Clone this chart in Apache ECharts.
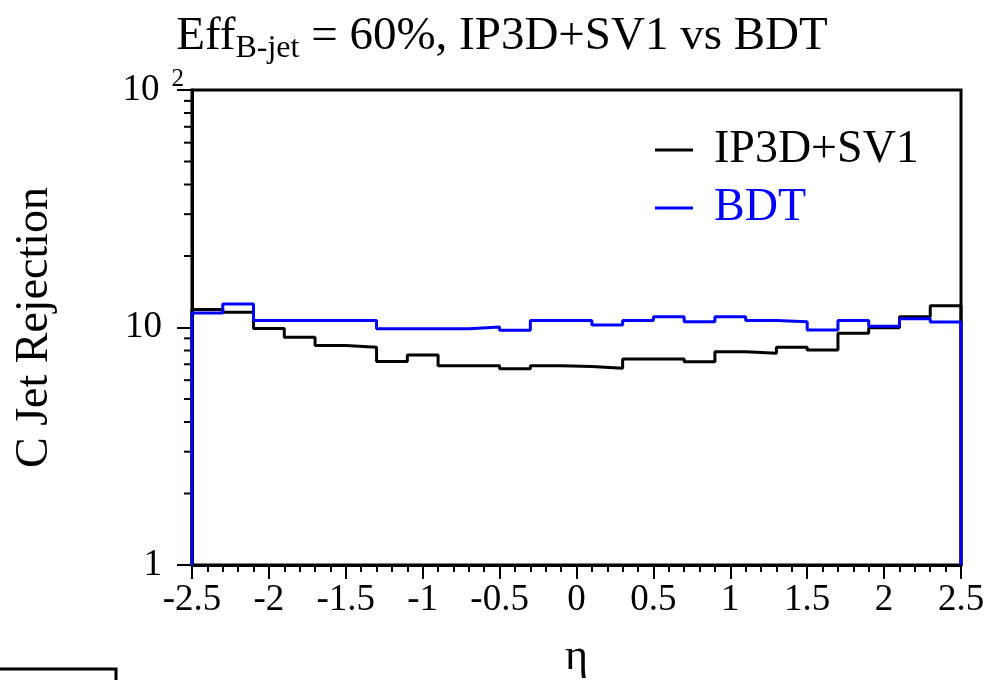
<!DOCTYPE html>
<html lang="en">
  <head>
    <meta charset="UTF-8" />
    <title>C Jet Rejection vs eta</title>
    <script src="https://cdn.jsdelivr.net/npm/echarts@6.0.0/dist/echarts.min.js"></script>
    <style>
      * { margin: 0; padding: 0; box-sizing: border-box; }
      body { background: #fff; overflow: hidden; }
      #chart { width: 988px; height: 680px; }
    </style>
  </head>
  <body>
    <div id="chart"></div>
    <script>
      // bin low edges (eta), bin width 0.2
      const etaBins = [-2.5, -2.3, -2.1, -1.9, -1.7, -1.5, -1.3, -1.1, -0.9, -0.7, -0.5, -0.3, -0.1,
                       0.1, 0.3, 0.5, 0.7, 0.9, 1.1, 1.3, 1.5, 1.7, 1.9, 2.1, 2.3];
      const etaMax = 2.5;
      const ip3dSv1 = [11.9, 11.6, 9.9, 9.1, 8.4, 8.25, 7.2, 7.66, 6.9, 6.9, 6.7, 6.9, 6.85,
                       6.73, 7.37, 7.37, 7.18, 7.91, 7.79, 8.25, 8.04, 9.45, 9.98, 11.1, 12.35];
      const bdt = [11.5, 12.56, 10.7, 10.7, 10.7, 10.7, 9.88, 9.88, 9.88, 10.05, 9.73, 10.7, 10.7,
                   10.25, 10.7, 11.1, 10.58, 11.1, 10.7, 10.58, 9.76, 10.7, 10.12, 10.89, 10.55];
      const yMinorTicks = [2, 3, 4, 5, 6, 7, 8, 9, 20, 30, 40, 50, 60, 70, 80, 90];

      const serif = "Liberation Serif";

      // histogram outline: drop to the axis floor at both ends
      function histo(vals) {
        const pts = [[etaBins[0], 1]];
        vals.forEach((v, i) => pts.push([etaBins[i], v]));
        pts.push([etaMax, vals[vals.length - 1]]);
        pts.push([etaMax, 1]);
        return pts;
      }

      const chart = echarts.init(document.getElementById("chart"));

      const option = {
        animation: false,
        backgroundColor: "#fff",
        title: {
          text: "Eff{sub|B-jet} = 60%, IP3D+SV1 vs BDT",
          left: 497,
          textAlign: "center",
          top: 4,
          textStyle: {
            fontFamily: serif,
            fontSize: 47,
            fontWeight: "normal",
            color: "#000",
            rich: {
              sub: { fontFamily: serif, fontSize: 32, color: "#000", padding: [24, 0, 0, 0] },
            },
          },
        },
        legend: {
          orient: "vertical",
          left: 650,
          top: 122,
          itemWidth: 38,
          itemHeight: 3,
          itemGap: 12,
          icon: "rect",
          textStyle: { fontFamily: serif, fontSize: 46, lineHeight: 46, padding: [0, 0, 0, 16] },
          data: [
            { name: "IP3D+SV1", textStyle: { color: "#000" } },
            { name: "BDT", textStyle: { color: "#0000ff" } },
          ],
        },
        grid: {
          left: 192,
          right: 27,
          top: 90,
          bottom: 115,
          outerBoundsMode: "none",
          containLabel: false,
          show: true,
          borderColor: "#000",
          borderWidth: 3,
        },
        xAxis: {
          type: "value",
          min: -2.5,
          max: 2.5,
          interval: 0.5,
          name: "η",
          nameLocation: "middle",
          nameGap: 70,
          nameTextStyle: { fontFamily: serif, fontSize: 44, color: "#000" },
          axisLine: { onZero: false, lineStyle: { color: "#000", width: 3 } },
          axisTick: { inside: false, length: 14, lineStyle: { color: "#000", width: 2 } },
          minorTick: { show: true, splitNumber: 5, length: 7, lineStyle: { color: "#000", width: 2 } },
          splitLine: { show: false },
          axisLabel: { fontFamily: serif, fontSize: 37, color: "#000", margin: 17 },
        },
        yAxis: {
          type: "log",
          logBase: 10,
          min: 1,
          max: 100,
          name: "C Jet Rejection",
          nameLocation: "middle",
          nameGap: 134,
          nameRotate: 90,
          nameTextStyle: { fontFamily: serif, fontSize: 46, color: "#000" },
          axisLine: { show: true, onZero: false, lineStyle: { color: "#000", width: 3 } },
          axisTick: { inside: false, length: 15, lineStyle: { color: "#000", width: 2 } },
          splitLine: { show: false },
          axisLabel: {
            margin: 8,
            formatter: (v) => (v >= 99 ? "{n|10}{sup|2}" : "{p|" + v + "}"),
            rich: {
              n: { fontFamily: serif, fontSize: 37, color: "#000" },
              p: { fontFamily: serif, fontSize: 37, color: "#000", padding: [0, 22, 0, 0] },
              sup: { fontFamily: serif, fontSize: 25, color: "#000", padding: [0, 0, 22, 12] },
            },
          },
        },
        series: [
          {
            name: "IP3D+SV1",
            type: "line",
            step: "end",
            symbol: "none",
            data: histo(ip3dSv1),
            lineStyle: { color: "#000", width: 3 },
            itemStyle: { color: "#000" },
            z: 3,
          },
          {
            name: "BDT",
            type: "line",
            step: "end",
            symbol: "none",
            data: histo(bdt),
            lineStyle: { color: "#0000ff", width: 3 },
            itemStyle: { color: "#0000ff" },
            z: 4,
          },
          {
            // minor log ticks on the y axis
            type: "custom",
            silent: true,
            clip: false,
            data: yMinorTicks.map((v) => [etaBins[0], v]),
            renderItem: function (params, api) {
              const p = api.coord([api.value(0), api.value(1)]);
              return {
                type: "line",
                shape: { x1: p[0] - 8, y1: p[1], x2: p[0], y2: p[1] },
                style: { stroke: "#000", lineWidth: 2 },
              };
            },
            z: 1,
          },
        ],
        graphic: [
          {
            type: "polyline",
            shape: { points: [[0, 669], [116, 669], [116, 680]] },
            style: { stroke: "#000", lineWidth: 3, fill: null },
          },
        ],
      };

      chart.setOption(option);
    </script>
  </body>
</html>
